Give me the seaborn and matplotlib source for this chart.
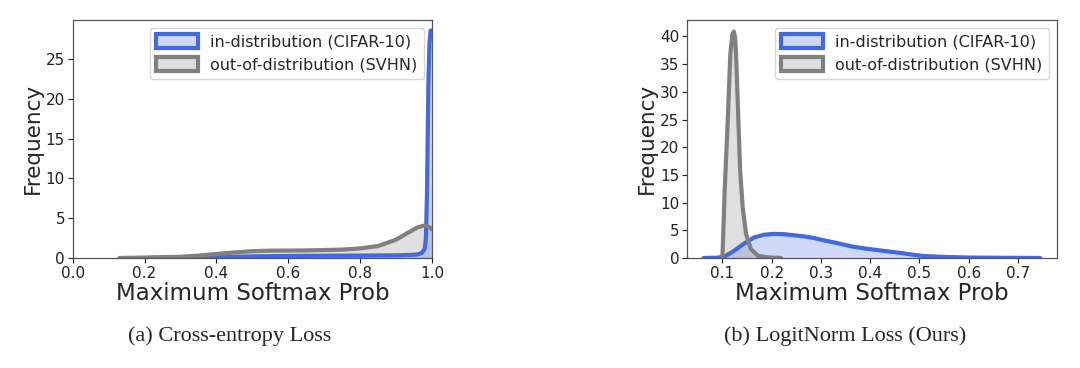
import numpy as np
import pandas as pd
import matplotlib.pyplot as plt
from matplotlib.patches import Patch
import seaborn as sns

sns.set_style("ticks")
plt.rcParams['font.family'] = ['DejaVu Sans']

# (a) cross-entropy: density curves
ce_id_x = [0.20, 0.30, 0.40, 0.50, 0.60, 0.70, 0.80, 0.90, 0.94, 0.96, 0.970,
           0.975, 0.980, 0.983, 0.986, 0.988, 0.990, 0.993, 0.996, 1.00]
ce_id_y = [0.0, 0.03, 0.10, 0.20, 0.25, 0.28, 0.30, 0.33, 0.38, 0.45, 0.6,
           0.8, 1.2, 2.5, 8.0, 15.0, 22.0, 27.0, 28.6, 28.6]
ce_ood_x = [0.13, 0.20, 0.30, 0.35, 0.40, 0.45, 0.50, 0.55, 0.60, 0.65, 0.70,
            0.75, 0.80, 0.85, 0.90, 0.93, 0.96, 0.98, 0.99, 1.00]
ce_ood_y = [0.0, 0.05, 0.15, 0.30, 0.50, 0.70, 0.85, 0.92, 0.93, 0.95, 1.00,
            1.05, 1.20, 1.50, 2.30, 3.10, 3.85, 4.10, 3.95, 3.60]

# (b) LogitNorm
ln_id_x = [0.062, 0.090, 0.105, 0.124, 0.144, 0.164, 0.184, 0.205, 0.225, 0.245,
           0.265, 0.286, 0.305, 0.327, 0.347, 0.367, 0.390, 0.408, 0.430, 0.449,
           0.470, 0.490, 0.510, 0.540, 0.570, 0.600, 0.650, 0.700, 0.745]
ln_id_y = [0.0, 0.05, 0.3, 1.3, 2.6, 3.7, 4.2, 4.35, 4.3, 4.1,
           3.9, 3.6, 3.2, 2.8, 2.4, 2.0, 1.7, 1.5, 1.25, 1.05,
           0.8, 0.55, 0.35, 0.22, 0.14, 0.08, 0.04, 0.02, 0.0]
ln_ood_x = [0.100, 0.1048, 0.1108, 0.116, 0.120, 0.123, 0.1255, 0.1277, 0.1324,
            0.136, 0.1412, 0.148, 0.158, 0.172, 0.192, 0.219]
ln_ood_y = [0.0, 12.7, 24.8, 36.8, 40.3, 40.9, 40.0, 36.8, 24.8,
            15.8, 9.1, 4.3, 1.6, 0.4, 0.1, 0.0]

labels = ['in-distribution (CIFAR-10)', 'out-of-distribution (SVHN)']
captions = ['(a) Cross-entropy Loss', '(b) LogitNorm Loss (Ours)']
line_colors = ['royalblue', 'gray']
fill_colors = ['#cfd9f7', '#dfdfdf']

fig = plt.figure(figsize=(10.8, 3.68), dpi=100)
ax1 = fig.add_axes([0.0673, 0.299, 0.3327, 0.647])
ax2 = fig.add_axes([0.636, 0.299, 0.3427, 0.647])

panels = [(ax1, [(ce_id_x, ce_id_y), (ce_ood_x, ce_ood_y)]),
          (ax2, [(ln_id_x, ln_id_y), (ln_ood_x, ln_ood_y)])]

for ax, curves in panels:
    for (x, y), c in zip(curves, line_colors):
        df = pd.DataFrame({'x': x, 'y': y})
        sns.lineplot(data=df, x='x', y='y', ax=ax, color=c, lw=3, sort=False)
        ax.fill_between(df.x, df.y, color=c, alpha=0.25, lw=0)
    ax.set_xlabel('Maximum Softmax Prob', fontsize=16.5, labelpad=1)
    ax.set_ylabel('Frequency', fontsize=15.5, labelpad=2)
    ax.tick_params(labelsize=11, length=3.5, pad=2, colors='#222222')
    for s in ax.spines.values():
        s.set_visible(True)
        s.set_linewidth(0.9)
        s.set_color('#555555')
    handles = [Patch(facecolor=fc, edgecolor=c, lw=3)
               for fc, c in zip(fill_colors, line_colors)]
    ax.legend(handles, labels, loc='upper right', fontsize=11.5,
              handlelength=2.6, handleheight=0.9, borderaxespad=0.5)

ax1.set_xlim(0, 1.0)
ax1.set_ylim(0, 29.95)
ax1.set_xticks(np.arange(0, 1.01, 0.2))
ax2.set_ylim(0, 43.0)
ax2.set_yticks(np.arange(0, 41, 5))

fig.text(230 / 1080, 1 - 336 / 368, captions[0], ha='center', va='center',
         fontsize=16, family='Liberation Serif')
fig.text(845 / 1080, 1 - 336 / 368, captions[1], ha='center', va='center',
         fontsize=16, family='Liberation Serif')

fig.savefig('out.png', dpi=100)
